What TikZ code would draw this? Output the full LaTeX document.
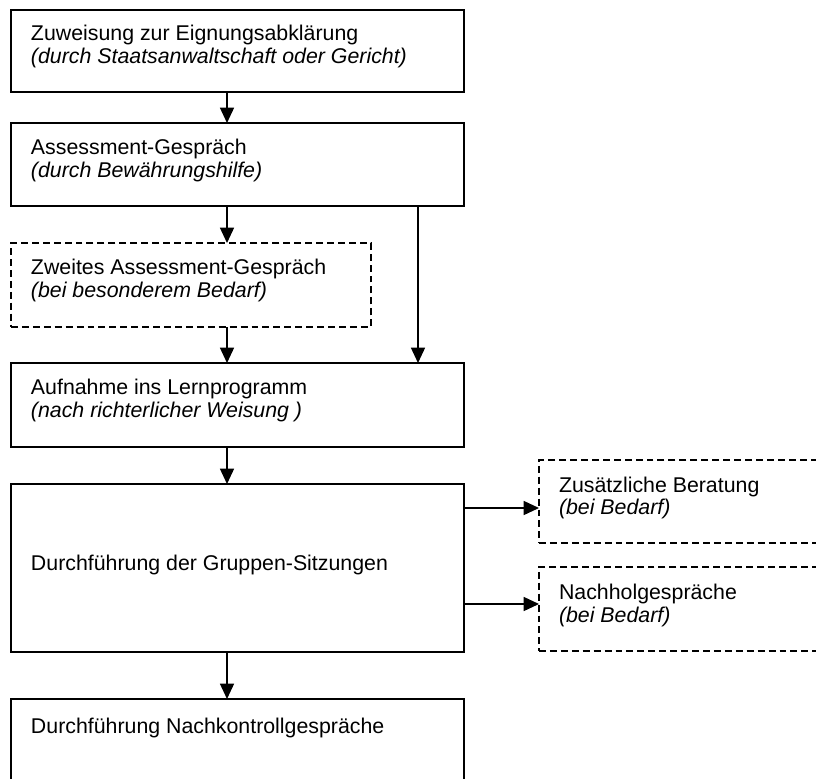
\documentclass[tikz,border=0pt]{standalone}
\usepackage{fontspec}
\setmainfont{Liberation Sans}
\usetikzlibrary{arrows.meta}
\begin{document}
\begin{tikzpicture}[x=0.75pt,y=-0.75pt,
  font=\fontsize{16}{19}\selectfont,
  solidbox/.style={draw, line width=1.4pt, rectangle, anchor=north west, outer sep=0pt, inner sep=0pt},
  dashbox/.style={draw, line width=1.1pt, dash pattern=on 5.2pt off 3pt, rectangle, anchor=north west, outer sep=0pt, inner sep=0pt},
  txt/.style={anchor=base west, inner sep=0pt, outer sep=0pt},
  itxt/.style={anchor=base west, inner sep=0pt, outer sep=0pt, font=\fontsize{16}{19}\selectfont\itshape},
  arr/.style={line width=1.1pt, -{Triangle[length=11.5pt,width=10.5pt]}}
]
\useasboundingbox (0,0) rectangle (816,778);
\clip (0,0) rectangle (816,778);

% boxes
\node[solidbox, minimum width=453*0.75pt, minimum height=82*0.75pt] (b1) at (11,10) {};
\node[solidbox, minimum width=453*0.75pt, minimum height=83*0.75pt] (b2) at (11,123) {};
\node[dashbox, minimum width=360*0.75pt, minimum height=84*0.75pt] (b3) at (11,243) {};
\node[solidbox, minimum width=453*0.75pt, minimum height=84*0.75pt] (b4) at (11,363) {};
\node[solidbox, minimum width=453*0.75pt, minimum height=168*0.75pt] (b5) at (11,484) {};
\node[dashbox, minimum width=300*0.75pt, minimum height=83*0.75pt] (b6) at (539,460) {};
\node[dashbox, minimum width=300*0.75pt, minimum height=84*0.75pt] (b7) at (539,567) {};
\node[solidbox, minimum width=453*0.75pt, minimum height=110*0.75pt] (b8) at (11,699) {};

% texts
\node[txt] (t1a) at (31,40) {Zuweisung zur Eignungsabklärung};
\node[itxt] (t1b) at (31,63) {(durch Staatsanwaltschaft oder Gericht)};
\node[txt] (t2a) at (31,154) {Assessment-Gespräch};
\node[itxt] (t2b) at (31,177) {(durch Bewährungshilfe)};
\node[txt] (t3a) at (31,274) {Zweites Assessment-Gespräch};
\node[itxt] (t3b) at (31,297) {(bei besonderem Bedarf)};
\node[txt] (t4a) at (31,394) {Aufnahme ins Lernprogramm};
\node[itxt] (t4b) at (31,417) {(nach richterlicher Weisung )};
\node[txt] (t5) at (31,570) {Durchführung der Gruppen-Sitzungen};
\node[txt] (t6a) at (559,492) {Zusätzliche Beratung};
\node[itxt] (t6b) at (559,514) {(bei Bedarf)};
\node[txt] (t7a) at (559,599) {Nachholgespräche};
\node[itxt] (t7b) at (559,622) {(bei Bedarf)};
\node[txt] (t8) at (31,733) {Durchführung Nachkontrollgespräche};

% connector guides
\coordinate (ax) at (227,0);
\coordinate (rx) at (418,0);
\coordinate (h1) at (0,508);
\coordinate (h2) at (0,604);

% connectors
\draw[arr] (b1.south -| ax) -- (b2.north -| ax);
\draw[arr] (b2.south -| ax) -- (b3.north -| ax);
\draw[arr] (b3.south -| ax) -- (b4.north -| ax);
\draw[arr] (b2.south -| rx) -- (b4.north -| rx);
\draw[arr] (b4.south -| ax) -- (b5.north -| ax);
\draw[arr] (b5.east |- h1) -- (b6.west |- h1);
\draw[arr] (b5.east |- h2) -- (b7.west |- h2);
\draw[arr] (b5.south -| ax) -- (b8.north -| ax);
\end{tikzpicture}
\end{document}
